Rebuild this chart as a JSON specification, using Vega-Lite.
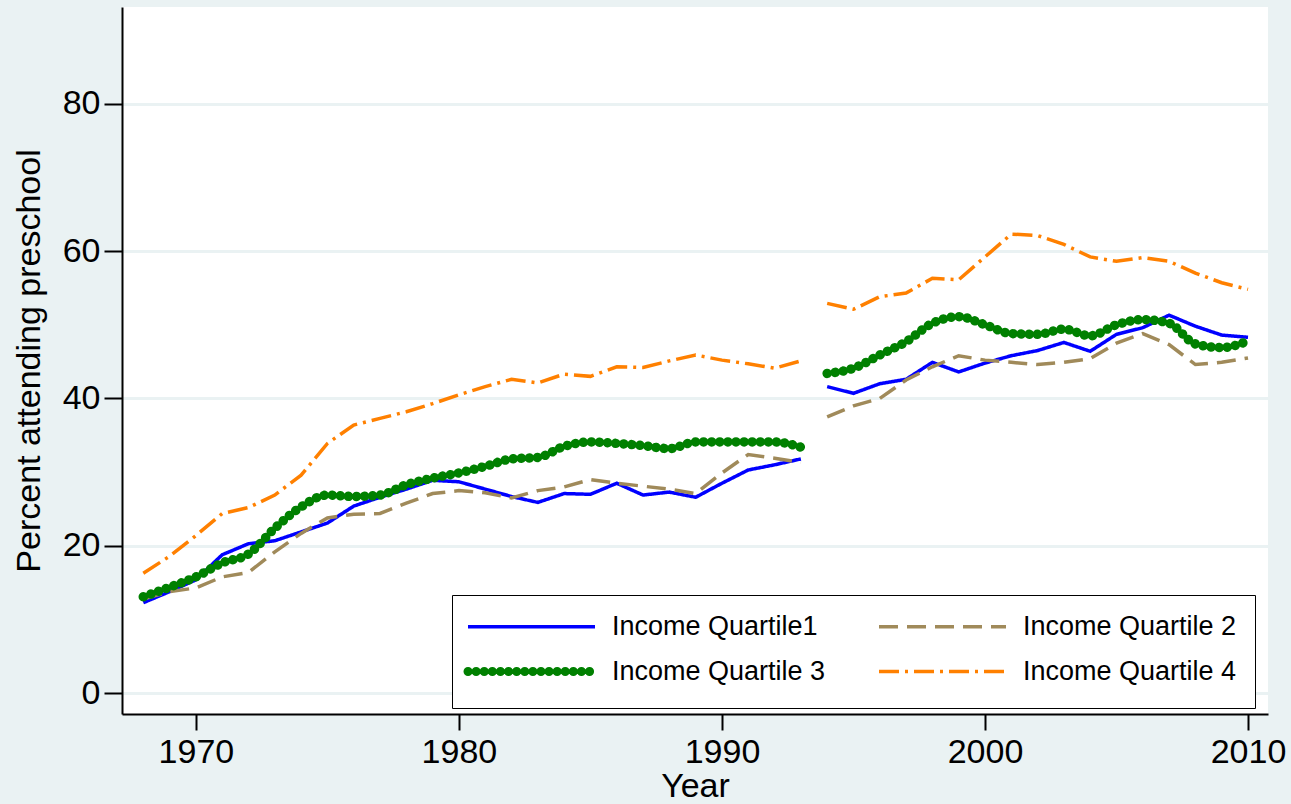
{
  "$schema": "https://vega.github.io/schema/vega-lite/v6.json",
  "width": 1146,
  "height": 707,
  "autosize": {"type": "none"},
  "padding": {"left": 122, "top": 7, "right": 23, "bottom": 90},
  "background": "#EAF2F3",
  "config": {
    "view": {"fill": "white", "stroke": null},
    "font": "Liberation Sans",
    "axis": {
      "domainColor": "#000000",
      "domainWidth": 2,
      "tickColor": "#000000",
      "tickWidth": 2,
      "tickSize": 16,
      "labelFont": "Liberation Sans",
      "labelFontSize": 34,
      "labelColor": "#000000",
      "titleFont": "Liberation Sans",
      "titleFontSize": 34,
      "titleFontWeight": "normal",
      "titleColor": "#000000",
      "gridColor": "#EAF2F3",
      "gridWidth": 3
    }
  },
  "data": {
    "values": [
      {"year":1968,"series":"Income Quartile1","period":1,"value":12.3},
      {"year":1969,"series":"Income Quartile1","period":1,"value":13.8},
      {"year":1970,"series":"Income Quartile1","period":1,"value":15.4},
      {"year":1971,"series":"Income Quartile1","period":1,"value":18.8},
      {"year":1972,"series":"Income Quartile1","period":1,"value":20.3},
      {"year":1973,"series":"Income Quartile1","period":1,"value":20.7},
      {"year":1974,"series":"Income Quartile1","period":1,"value":21.9},
      {"year":1975,"series":"Income Quartile1","period":1,"value":23.1},
      {"year":1976,"series":"Income Quartile1","period":1,"value":25.4},
      {"year":1977,"series":"Income Quartile1","period":1,"value":26.6},
      {"year":1978,"series":"Income Quartile1","period":1,"value":27.7},
      {"year":1979,"series":"Income Quartile1","period":1,"value":28.9},
      {"year":1980,"series":"Income Quartile1","period":1,"value":28.7},
      {"year":1981,"series":"Income Quartile1","period":1,"value":27.7},
      {"year":1982,"series":"Income Quartile1","period":1,"value":26.7},
      {"year":1983,"series":"Income Quartile1","period":1,"value":25.9},
      {"year":1984,"series":"Income Quartile1","period":1,"value":27.1},
      {"year":1985,"series":"Income Quartile1","period":1,"value":27.0},
      {"year":1986,"series":"Income Quartile1","period":1,"value":28.5},
      {"year":1987,"series":"Income Quartile1","period":1,"value":26.9},
      {"year":1988,"series":"Income Quartile1","period":1,"value":27.3},
      {"year":1989,"series":"Income Quartile1","period":1,"value":26.6},
      {"year":1990,"series":"Income Quartile1","period":1,"value":28.5},
      {"year":1991,"series":"Income Quartile1","period":1,"value":30.3},
      {"year":1992,"series":"Income Quartile1","period":1,"value":31.0},
      {"year":1993,"series":"Income Quartile1","period":1,"value":31.8},
      {"year":1994,"series":"Income Quartile1","period":2,"value":41.6},
      {"year":1995,"series":"Income Quartile1","period":2,"value":40.7},
      {"year":1996,"series":"Income Quartile1","period":2,"value":42.0},
      {"year":1997,"series":"Income Quartile1","period":2,"value":42.6},
      {"year":1998,"series":"Income Quartile1","period":2,"value":44.9},
      {"year":1999,"series":"Income Quartile1","period":2,"value":43.6},
      {"year":2000,"series":"Income Quartile1","period":2,"value":44.8},
      {"year":2001,"series":"Income Quartile1","period":2,"value":45.8},
      {"year":2002,"series":"Income Quartile1","period":2,"value":46.5},
      {"year":2003,"series":"Income Quartile1","period":2,"value":47.6},
      {"year":2004,"series":"Income Quartile1","period":2,"value":46.4},
      {"year":2005,"series":"Income Quartile1","period":2,"value":48.7},
      {"year":2006,"series":"Income Quartile1","period":2,"value":49.6},
      {"year":2007,"series":"Income Quartile1","period":2,"value":51.3},
      {"year":2008,"series":"Income Quartile1","period":2,"value":49.8},
      {"year":2009,"series":"Income Quartile1","period":2,"value":48.6},
      {"year":2010,"series":"Income Quartile1","period":2,"value":48.3},

      {"year":1968,"series":"Income Quartile 2","period":1,"value":12.8},
      {"year":1969,"series":"Income Quartile 2","period":1,"value":13.8},
      {"year":1970,"series":"Income Quartile 2","period":1,"value":14.3},
      {"year":1971,"series":"Income Quartile 2","period":1,"value":15.8},
      {"year":1972,"series":"Income Quartile 2","period":1,"value":16.4},
      {"year":1973,"series":"Income Quartile 2","period":1,"value":19.2},
      {"year":1974,"series":"Income Quartile 2","period":1,"value":21.7},
      {"year":1975,"series":"Income Quartile 2","period":1,"value":23.8},
      {"year":1976,"series":"Income Quartile 2","period":1,"value":24.3},
      {"year":1977,"series":"Income Quartile 2","period":1,"value":24.4},
      {"year":1978,"series":"Income Quartile 2","period":1,"value":25.8},
      {"year":1979,"series":"Income Quartile 2","period":1,"value":27.1},
      {"year":1980,"series":"Income Quartile 2","period":1,"value":27.5},
      {"year":1981,"series":"Income Quartile 2","period":1,"value":27.2},
      {"year":1982,"series":"Income Quartile 2","period":1,"value":26.5},
      {"year":1983,"series":"Income Quartile 2","period":1,"value":27.5},
      {"year":1984,"series":"Income Quartile 2","period":1,"value":28.0},
      {"year":1985,"series":"Income Quartile 2","period":1,"value":29.0},
      {"year":1986,"series":"Income Quartile 2","period":1,"value":28.5},
      {"year":1987,"series":"Income Quartile 2","period":1,"value":28.1},
      {"year":1988,"series":"Income Quartile 2","period":1,"value":27.7},
      {"year":1989,"series":"Income Quartile 2","period":1,"value":27.1},
      {"year":1990,"series":"Income Quartile 2","period":1,"value":29.9},
      {"year":1991,"series":"Income Quartile 2","period":1,"value":32.4},
      {"year":1992,"series":"Income Quartile 2","period":1,"value":31.9},
      {"year":1993,"series":"Income Quartile 2","period":1,"value":31.3},
      {"year":1994,"series":"Income Quartile 2","period":2,"value":37.5},
      {"year":1995,"series":"Income Quartile 2","period":2,"value":39.0},
      {"year":1996,"series":"Income Quartile 2","period":2,"value":40.0},
      {"year":1997,"series":"Income Quartile 2","period":2,"value":42.5},
      {"year":1998,"series":"Income Quartile 2","period":2,"value":44.3},
      {"year":1999,"series":"Income Quartile 2","period":2,"value":45.8},
      {"year":2000,"series":"Income Quartile 2","period":2,"value":45.2},
      {"year":2001,"series":"Income Quartile 2","period":2,"value":44.9},
      {"year":2002,"series":"Income Quartile 2","period":2,"value":44.6},
      {"year":2003,"series":"Income Quartile 2","period":2,"value":44.9},
      {"year":2004,"series":"Income Quartile 2","period":2,"value":45.4},
      {"year":2005,"series":"Income Quartile 2","period":2,"value":47.5},
      {"year":2006,"series":"Income Quartile 2","period":2,"value":48.8},
      {"year":2007,"series":"Income Quartile 2","period":2,"value":47.3},
      {"year":2008,"series":"Income Quartile 2","period":2,"value":44.6},
      {"year":2009,"series":"Income Quartile 2","period":2,"value":44.9},
      {"year":2010,"series":"Income Quartile 2","period":2,"value":45.5},

      {"year":1968,"series":"Income Quartile 3","period":1,"value":13.1},
      {"year":1969,"series":"Income Quartile 3","period":1,"value":14.4},
      {"year":1970,"series":"Income Quartile 3","period":1,"value":15.8},
      {"year":1971,"series":"Income Quartile 3","period":1,"value":17.7},
      {"year":1972,"series":"Income Quartile 3","period":1,"value":18.9},
      {"year":1973,"series":"Income Quartile 3","period":1,"value":22.4},
      {"year":1974,"series":"Income Quartile 3","period":1,"value":25.3},
      {"year":1975,"series":"Income Quartile 3","period":1,"value":26.9},
      {"year":1976,"series":"Income Quartile 3","period":1,"value":26.7},
      {"year":1977,"series":"Income Quartile 3","period":1,"value":26.9},
      {"year":1978,"series":"Income Quartile 3","period":1,"value":28.3},
      {"year":1979,"series":"Income Quartile 3","period":1,"value":29.2},
      {"year":1980,"series":"Income Quartile 3","period":1,"value":29.9},
      {"year":1981,"series":"Income Quartile 3","period":1,"value":30.8},
      {"year":1982,"series":"Income Quartile 3","period":1,"value":31.8},
      {"year":1983,"series":"Income Quartile 3","period":1,"value":32.0},
      {"year":1984,"series":"Income Quartile 3","period":1,"value":33.5},
      {"year":1985,"series":"Income Quartile 3","period":1,"value":34.1},
      {"year":1986,"series":"Income Quartile 3","period":1,"value":33.9},
      {"year":1987,"series":"Income Quartile 3","period":1,"value":33.6},
      {"year":1988,"series":"Income Quartile 3","period":1,"value":33.2},
      {"year":1989,"series":"Income Quartile 3","period":1,"value":34.1},
      {"year":1990,"series":"Income Quartile 3","period":1,"value":34.1},
      {"year":1991,"series":"Income Quartile 3","period":1,"value":34.1},
      {"year":1992,"series":"Income Quartile 3","period":1,"value":34.1},
      {"year":1993,"series":"Income Quartile 3","period":1,"value":33.4},
      {"year":1994,"series":"Income Quartile 3","period":2,"value":43.4},
      {"year":1995,"series":"Income Quartile 3","period":2,"value":44.1},
      {"year":1996,"series":"Income Quartile 3","period":2,"value":45.9},
      {"year":1997,"series":"Income Quartile 3","period":2,"value":47.7},
      {"year":1998,"series":"Income Quartile 3","period":2,"value":50.2},
      {"year":1999,"series":"Income Quartile 3","period":2,"value":51.1},
      {"year":2000,"series":"Income Quartile 3","period":2,"value":50.0},
      {"year":2001,"series":"Income Quartile 3","period":2,"value":48.8},
      {"year":2002,"series":"Income Quartile 3","period":2,"value":48.7},
      {"year":2003,"series":"Income Quartile 3","period":2,"value":49.4},
      {"year":2004,"series":"Income Quartile 3","period":2,"value":48.5},
      {"year":2005,"series":"Income Quartile 3","period":2,"value":50.0},
      {"year":2006,"series":"Income Quartile 3","period":2,"value":50.7},
      {"year":2007,"series":"Income Quartile 3","period":2,"value":50.2},
      {"year":2008,"series":"Income Quartile 3","period":2,"value":47.4},
      {"year":2009,"series":"Income Quartile 3","period":2,"value":46.9},
      {"year":2010,"series":"Income Quartile 3","period":2,"value":47.8},

      {"year":1968,"series":"Income Quartile 4","period":1,"value":16.3},
      {"year":1969,"series":"Income Quartile 4","period":1,"value":18.6},
      {"year":1970,"series":"Income Quartile 4","period":1,"value":21.4},
      {"year":1971,"series":"Income Quartile 4","period":1,"value":24.4},
      {"year":1972,"series":"Income Quartile 4","period":1,"value":25.2},
      {"year":1973,"series":"Income Quartile 4","period":1,"value":26.9},
      {"year":1974,"series":"Income Quartile 4","period":1,"value":29.6},
      {"year":1975,"series":"Income Quartile 4","period":1,"value":33.9},
      {"year":1976,"series":"Income Quartile 4","period":1,"value":36.4},
      {"year":1977,"series":"Income Quartile 4","period":1,"value":37.3},
      {"year":1978,"series":"Income Quartile 4","period":1,"value":38.2},
      {"year":1979,"series":"Income Quartile 4","period":1,"value":39.3},
      {"year":1980,"series":"Income Quartile 4","period":1,"value":40.5},
      {"year":1981,"series":"Income Quartile 4","period":1,"value":41.6},
      {"year":1982,"series":"Income Quartile 4","period":1,"value":42.6},
      {"year":1983,"series":"Income Quartile 4","period":1,"value":42.1},
      {"year":1984,"series":"Income Quartile 4","period":1,"value":43.3},
      {"year":1985,"series":"Income Quartile 4","period":1,"value":43.0},
      {"year":1986,"series":"Income Quartile 4","period":1,"value":44.3},
      {"year":1987,"series":"Income Quartile 4","period":1,"value":44.2},
      {"year":1988,"series":"Income Quartile 4","period":1,"value":45.1},
      {"year":1989,"series":"Income Quartile 4","period":1,"value":45.9},
      {"year":1990,"series":"Income Quartile 4","period":1,"value":45.2},
      {"year":1991,"series":"Income Quartile 4","period":1,"value":44.7},
      {"year":1992,"series":"Income Quartile 4","period":1,"value":44.1},
      {"year":1993,"series":"Income Quartile 4","period":1,"value":45.1},
      {"year":1994,"series":"Income Quartile 4","period":2,"value":52.9},
      {"year":1995,"series":"Income Quartile 4","period":2,"value":52.1},
      {"year":1996,"series":"Income Quartile 4","period":2,"value":53.8},
      {"year":1997,"series":"Income Quartile 4","period":2,"value":54.3},
      {"year":1998,"series":"Income Quartile 4","period":2,"value":56.3},
      {"year":1999,"series":"Income Quartile 4","period":2,"value":56.1},
      {"year":2000,"series":"Income Quartile 4","period":2,"value":59.2},
      {"year":2001,"series":"Income Quartile 4","period":2,"value":62.3},
      {"year":2002,"series":"Income Quartile 4","period":2,"value":62.1},
      {"year":2003,"series":"Income Quartile 4","period":2,"value":60.9},
      {"year":2004,"series":"Income Quartile 4","period":2,"value":59.2},
      {"year":2005,"series":"Income Quartile 4","period":2,"value":58.6},
      {"year":2006,"series":"Income Quartile 4","period":2,"value":59.1},
      {"year":2007,"series":"Income Quartile 4","period":2,"value":58.6},
      {"year":2008,"series":"Income Quartile 4","period":2,"value":57.0},
      {"year":2009,"series":"Income Quartile 4","period":2,"value":55.7},
      {"year":2010,"series":"Income Quartile 4","period":2,"value":54.8}
    ]
  },
  "encoding": {
    "x": {
      "field": "year",
      "type": "quantitative",
      "title": "Year",
      "scale": {"domain": [1967.19, 2010.76], "nice": false, "zero": false},
      "axis": {"values": [1970, 1980, 1990, 2000, 2010], "format": "d", "grid": false, "labelPadding": 5, "titlePadding": 0, "labelFlush": false}
    },
    "y": {
      "field": "value",
      "type": "quantitative",
      "title": "Percent attending preschool",
      "scale": {"domain": [-2.8, 93.1], "nice": false, "zero": false},
      "axis": {"values": [0, 20, 40, 60, 80], "grid": true, "labelPadding": 4, "titlePadding": 16, "tickSize": 18}
    },
    "color": {
      "field": "series",
      "type": "nominal",
      "scale": {
        "domain": ["Income Quartile1", "Income Quartile 2", "Income Quartile 3", "Income Quartile 4"],
        "range": ["#0000FF", "#A08A5A", "#008000", "#FF8000"]
      },
      "legend": {
        "title": null,
        "orient": "none",
        "legendX": 330,
        "legendY": 588,
        "direction": "horizontal",
        "columns": 2,
        "columnPadding": 46,
        "rowPadding": 13,
        "padding": 18,
        "strokeColor": "#000000",
        "fillColor": "#FFFFFF",
        "labelFont": "Liberation Sans",
        "labelFontSize": 27,
        "labelColor": "#000000",
        "labelLimit": 400,
        "symbolType": "M-6.35,0H6.35",
        "symbolSize": 400,
        "symbolStrokeWidth": 3.5,
        "symbolOffset": 48,
        "labelOffset": 67,
        "encoding": {
          "symbols": {
            "strokeWidth": {"value": {"expr": "datum.value == 'Income Quartile 3' ? 9 : 3.5"}},
            "strokeCap": {"value": {"expr": "datum.value == 'Income Quartile 3' ? 'round' : 'butt'"}}
          }
        }
      }
    },
    "strokeDash": {
      "field": "series",
      "type": "nominal",
      "scale": {
        "domain": ["Income Quartile1", "Income Quartile 2", "Income Quartile 3", "Income Quartile 4"],
        "range": [[1, 0], [19, 9], [0.1, 8], [20, 6, 3, 6]]
      },
      "legend": {
        "title": null,
        "orient": "none",
        "legendX": 330,
        "legendY": 588,
        "direction": "horizontal",
        "columns": 2,
        "columnPadding": 46,
        "rowPadding": 13,
        "padding": 18,
        "strokeColor": "#000000",
        "fillColor": "#FFFFFF",
        "labelFont": "Liberation Sans",
        "labelFontSize": 27,
        "labelColor": "#000000",
        "labelLimit": 400,
        "symbolType": "M-6.35,0H6.35",
        "symbolSize": 400,
        "symbolStrokeWidth": 3.5,
        "symbolOffset": 48,
        "labelOffset": 67,
        "encoding": {
          "symbols": {
            "strokeWidth": {"value": {"expr": "datum.value == 'Income Quartile 3' ? 9 : 3.5"}},
            "strokeCap": {"value": {"expr": "datum.value == 'Income Quartile 3' ? 'round' : 'butt'"}}
          }
        }
      }
    },
    "detail": {"field": "period", "type": "nominal"}
  },
  "layer": [
    {
      "transform": [{"filter": "datum.series != 'Income Quartile 3'"}],
      "mark": {"type": "line", "strokeWidth": 3.5, "strokeCap": "butt"}
    },
    {
      "transform": [{"filter": "datum.series == 'Income Quartile 3'"}],
      "mark": {"type": "line", "strokeWidth": 9.5, "strokeCap": "round", "interpolate": "monotone"}
    }
  ]
}
